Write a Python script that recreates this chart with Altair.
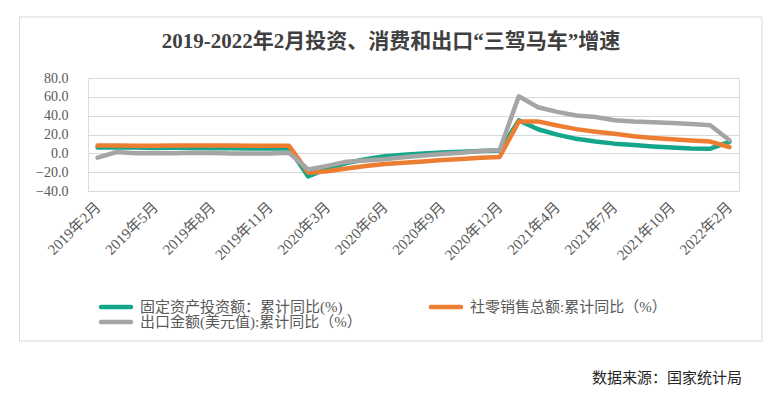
import altair as alt
import pandas as pd

categories = [
    "2019年2月", "2019年3月", "2019年4月", "2019年5月", "2019年6月", "2019年7月",
    "2019年8月", "2019年9月", "2019年10月", "2019年11月", "2019年12月",
    "2020年2月", "2020年3月", "2020年4月", "2020年5月", "2020年6月", "2020年7月",
    "2020年8月", "2020年9月", "2020年10月", "2020年11月", "2020年12月",
    "2021年2月", "2021年3月", "2021年4月", "2021年5月", "2021年6月", "2021年7月",
    "2021年8月", "2021年9月", "2021年10月", "2021年11月", "2021年12月",
    "2022年2月",
]
x_label_values = [
    "2019年2月", "2019年5月", "2019年8月", "2019年11月", "2020年3月", "2020年6月",
    "2020年9月", "2020年12月", "2021年4月", "2021年7月", "2021年10月", "2022年2月",
]
fai = [6.1, 6.3, 6.1, 5.6, 5.8, 5.7, 5.5, 5.4, 5.2, 5.2, 5.4,
       -24.5, -16.1, -10.3, -6.3, -3.1, -1.6, -0.3, 0.8, 1.8, 2.6, 2.9,
       35.0, 25.6, 19.9, 15.4, 12.6, 10.3, 8.9, 7.3, 6.1, 5.2, 4.9,
       12.2]
retail = [8.2, 8.3, 8.0, 8.1, 8.4, 8.3, 8.2, 8.2, 8.1, 8.0, 8.0,
          -20.5, -19.0, -16.2, -13.5, -11.4, -9.9, -8.6, -7.2, -5.9, -4.8, -3.9,
          33.8, 33.9, 29.6, 25.7, 23.0, 20.7, 18.1, 16.4, 14.9, 13.7, 12.5,
          6.7]
export = [-4.6, 1.4, 0.2, 0.0, 0.1, 0.6, 0.4, -0.1, -0.2, -0.3, 0.5,
          -17.2, -13.3, -9.0, -7.7, -6.2, -4.1, -2.3, -0.8, 0.5, 2.5, 3.6,
          60.6, 49.0, 44.0, 40.2, 38.6, 35.2, 33.7, 33.0, 32.3, 31.1, 29.9,
          14.0]
series_names = ["固定资产投资额：累计同比(%)", "社零销售总额:累计同比（%）", "出口金额(美元值):累计同比（%）"]
series_colors = ["#13A68A", "#ED7D31", "#A5A5A5"]
y_ticks = [-40, -20, 0, 20, 40, 60, 80]
title_text = "2019-2022年2月投资、消费和出口“三驾马车”增速"
source_text = "数据来源：国家统计局"

rows = []
for name, vals in zip(series_names, [fai, retail, export]):
    for c, v in zip(categories, vals):
        rows.append({"月份": c, "系列": name, "值": v})
df = pd.DataFrame(rows)

FONT = "Liberation Serif, Noto Sans CJK SC"
LABEL = "#595959"

frame = alt.Chart(pd.DataFrame({"k": [0]})).mark_rect(
    fillOpacity=0, stroke="#D9D9D9", strokeWidth=1
).encode(
    x=alt.value(-68.5), x2=alt.value(674), y=alt.value(-61), y2=alt.value(263)
)

lines = alt.Chart(df).mark_line(strokeWidth=4.5, strokeJoin="round", strokeCap="round").encode(
    x=alt.X("月份:N", sort=categories,
            scale=alt.Scale(type="point", padding=0.5),
            axis=alt.Axis(values=x_label_values, labelAngle=-45, labelAlign="right",
                          labelBaseline="middle", title=None, ticks=False, domain=False,
                          grid=False, labelPadding=13, labelFontSize=15, labelColor=LABEL,
                          labelFont=FONT, labelOverlap=False)),
    y=alt.Y("值:Q", scale=alt.Scale(domain=[-40, 80], nice=False, zero=False),
            axis=alt.Axis(values=y_ticks, format=".1f", title=None, ticks=False, domain=False,
                          gridColor="#D9D9D9", gridWidth=1, labelPadding=20, labelFontSize=14,
                          labelColor=LABEL, labelFont=FONT)),
    color=alt.Color("系列:N", sort=series_names,
                    scale=alt.Scale(domain=series_names, range=series_colors),
                    legend=None),
)

# manual legend (plot origin is at page x=88, y=78)
legend_pos = [(12, 229), (342, 229), (12, 244)]
legend_layers = []
for name, color, (lx, ly) in zip(series_names, series_colors, legend_pos):
    d = pd.DataFrame({"t": [name]})
    legend_layers.append(
        alt.Chart(d).mark_rule(stroke=color, strokeWidth=4.5, strokeCap="round").encode(
            x=alt.value(lx + 1), x2=alt.value(lx + 31), y=alt.value(ly)
        )
    )
    legend_layers.append(
        alt.Chart(d).mark_text(font=FONT, fontSize=15, color=LABEL, align="left",
                               baseline="middle").encode(
            text="t:N", x=alt.value(lx + 40), y=alt.value(ly)
        )
    )

title = alt.Chart(pd.DataFrame({"t": [title_text]})).mark_text(
    font=FONT, fontSize=21, fontWeight="bold", color="#404040", align="center", baseline="middle"
).encode(text="t:N", x=alt.value(303), y=alt.value(-36))

source = alt.Chart(pd.DataFrame({"t": [source_text]})).mark_text(
    font=FONT, fontSize=15, color="#262626", align="right", baseline="middle"
).encode(text="t:N", x=alt.value(654), y=alt.value(300))

chart = alt.layer(frame, lines, *legend_layers, title, source).properties(
    width=651, height=113,
    padding={"left": 80, "top": 70, "right": 25, "bottom": 195},
    autosize=alt.AutoSizeParams(type="none"),
).configure_view(stroke=None).configure(background="white")

chart.save("out.html", embed_options={"renderer": "svg", "actions": False})
